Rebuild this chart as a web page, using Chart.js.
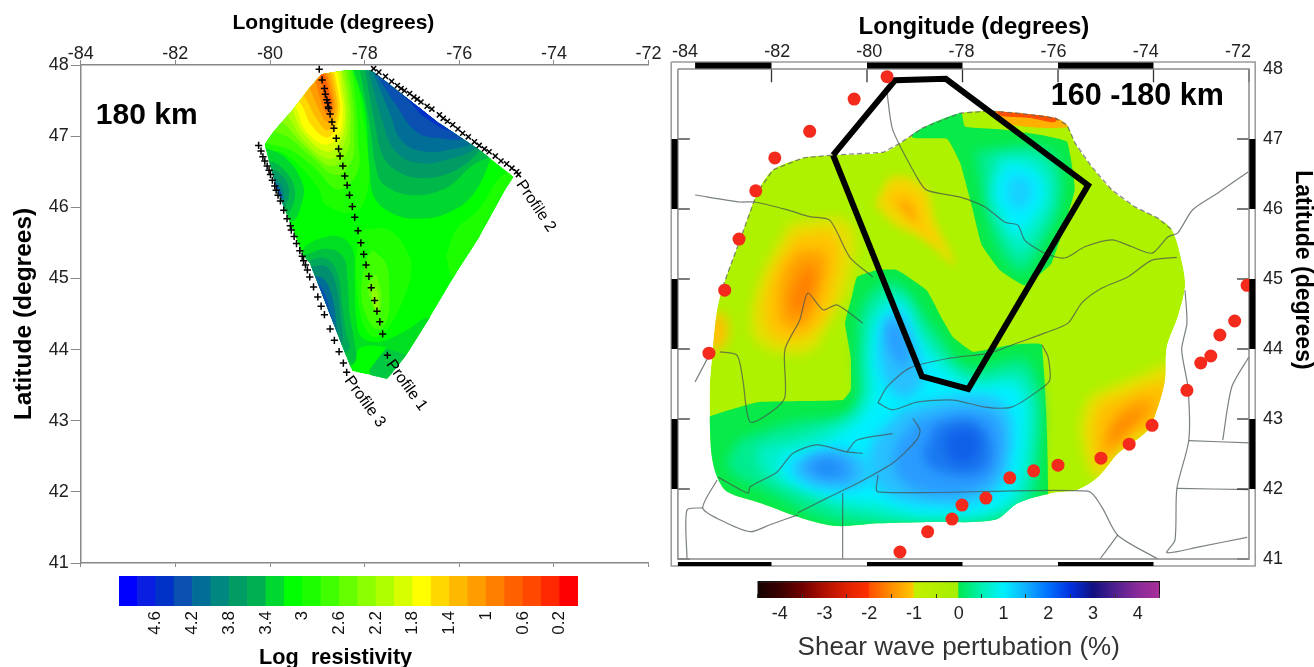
<!DOCTYPE html>
<html><head><meta charset="utf-8">
<style>html,body{margin:0;padding:0;background:#fff;width:1314px;height:667px;overflow:hidden}canvas{position:absolute;display:block}</style>
<script src="https://cdn.jsdelivr.net/npm/chart.js@4"></script>
</head><body>
<canvas id="resMap" width="670" height="667" style="left:0;top:0"></canvas>
<canvas id="shearMap" width="654" height="667" style="left:660px;top:0"></canvas>
<canvas id="resBar" width="500" height="101" style="left:100px;top:566px"></canvas>
<canvas id="shearBar" width="460" height="97" style="left:730px;top:570px"></canvas>
<script>
/* ---------- LEFT MAP: log resistivity at 180 km, [lon, lat] ---------- */
const resOutline=[[-78.91,47.87],[-79.20,47.65],[-79.52,47.37],[-79.94,47.05],[-80.11,46.88],[-79.86,46.27],[-79.31,45.33],[-79.16,45.22],[-78.38,43.90],[-78.26,43.70],[-77.85,43.64],[-77.52,43.59],[-77.12,43.92],[-76.63,44.44],[-76.06,45.08],[-75.58,45.58],[-75.01,46.27],[-74.86,46.43],[-75.58,46.81],[-76.42,47.18],[-77.85,47.92],[-78.36,47.93],[-78.91,47.87]];
const orange1=[[-78.21,48],[-78.07,47.44],[-77.93,46.73],[-77.93,46.27],[-78.18,45.94],[-78.81,46.03],[-78.98,46.27],[-79.33,46.55],[-79.69,46.75],[-80.22,46.9],[-80.22,48],[-78.21,48]];
const orange2=[[-78.28,48],[-78.18,47.44],[-78.14,46.97],[-78.15,46.50],[-78.55,46.25],[-79.05,46.55],[-79.55,46.8],[-80.22,47.0],[-80.22,48],[-78.28,48]];
const orange3=[[-78.36,48],[-78.25,47.48],[-78.22,47.05],[-78.27,46.66],[-78.60,46.45],[-79.15,46.72],[-79.65,47.0],[-80.22,47.15],[-80.22,48],[-78.36,48]];
const orange4=[[-78.43,48],[-78.32,47.53],[-78.30,47.15],[-78.37,46.78],[-78.70,46.58],[-79.25,46.85],[-79.75,47.20],[-80.22,47.35],[-80.22,48],[-78.43,48]];
const orange5=[[-78.50,48],[-78.39,47.58],[-78.36,47.25],[-78.44,46.88],[-78.74,46.68],[-79.30,46.95],[-79.70,47.35],[-80.22,47.60],[-80.22,48],[-78.50,48]];
const orange6=[[-78.53,48],[-78.45,47.58],[-78.41,47.30],[-78.50,46.95],[-78.80,46.78],[-79.30,47.05],[-79.55,47.40],[-79.85,47.70],[-79.85,48],[-78.53,48]];
const orange7=[[-78.60,48],[-78.50,47.58],[-78.46,47.34],[-78.55,47.02],[-78.84,46.88],[-79.26,47.09],[-79.43,47.37],[-79.69,47.65],[-79.70,48],[-78.60,48]];
const orange8=[[-78.67,48],[-78.55,47.58],[-78.52,47.37],[-78.62,47.10],[-78.80,46.98],[-79.12,47.15],[-79.30,47.40],[-79.55,47.70],[-79.55,48],[-78.67,48]];
const orange9=[[-78.73,48],[-78.60,47.58],[-78.57,47.39],[-78.65,47.18],[-78.80,47.08],[-79.02,47.25],[-79.18,47.45],[-79.40,47.75],[-79.40,48],[-78.73,48]];
const orange10=[[-78.80,48],[-78.66,47.62],[-78.62,47.39],[-78.69,47.25],[-78.80,47.20],[-78.95,47.35],[-79.08,47.55],[-79.25,47.85],[-79.25,48],[-78.80,48]];
const orange11=[[-78.85,48],[-78.71,47.62],[-78.66,47.41],[-78.73,47.30],[-78.82,47.32],[-78.93,47.50],[-79.02,47.72],[-79.12,48],[-78.85,48]];
const orange12=[[-78.90,48],[-78.75,47.62],[-78.70,47.46],[-78.76,47.40],[-78.84,47.48],[-78.90,47.72],[-78.99,48],[-78.90,48]];
const northEast1=[[-78.25,47.95],[-78.00,47.39],[-77.90,46.59],[-77.79,46.13],[-77.34,45.89],[-76.84,45.84],[-76.28,45.91],[-75.72,46.17],[-75.30,46.73],[-75.02,47.20],[-77.12,48.05],[-78.25,48.05],[-78.25,47.95]];
const northEast2=[[-78.11,47.95],[-77.90,47.20],[-77.76,46.55],[-77.58,46.31],[-76.98,46.17],[-76.28,46.27],[-75.72,46.59],[-75.23,46.78],[-75.02,47.20],[-77.12,48.05],[-78.11,47.95]];
const northEast3=[[-78.00,47.95],[-77.79,47.20],[-77.62,46.73],[-77.34,46.52],[-76.84,46.41],[-76.14,46.50],[-75.58,46.78],[-75.02,47.20],[-77.12,48.05],[-78.00,47.95]];
const northEast4=[[-77.93,47.95],[-77.62,47.20],[-77.34,46.78],[-76.84,46.62],[-76.14,46.69],[-75.65,46.83],[-75.02,47.20],[-77.12,48.05],[-77.93,47.95]];
const northEast5=[[-77.86,47.95],[-77.48,47.34],[-77.20,46.92],[-76.70,46.78],[-76.07,46.83],[-75.72,46.90],[-75.02,47.20],[-77.12,48.05],[-77.86,47.95]];
const northEast6=[[-77.83,47.95],[-77.34,47.44],[-76.91,47.06],[-76.42,46.97],[-75.86,46.97],[-75.02,47.20],[-77.12,48.05],[-77.83,47.95]];
const northEast7=[[-77.69,47.91],[-77.12,47.53],[-76.70,47.25],[-76.14,47.06],[-75.44,47.06],[-77.12,48.05],[-77.69,47.91]];
const northEast8=[[-77.26,47.72],[-76.84,47.39],[-76.35,47.18],[-75.72,47.18],[-77.12,48.05],[-77.26,47.72]];
const west1=[[-80.15,46.85],[-79.66,46.69],[-79.30,46.31],[-79.34,46.03],[-79.52,45.80],[-79.87,45.80],[-80.36,46.27],[-80.15,46.85]];
const west2=[[-80.11,46.69],[-79.73,46.55],[-79.48,46.27],[-79.55,45.98],[-79.73,45.84],[-80.36,46.27],[-80.11,46.69]];
const west3=[[-80.08,46.57],[-79.80,46.48],[-79.60,46.27],[-79.66,46.03],[-79.76,45.94],[-80.36,46.27],[-80.08,46.57]];
const west4=[[-80.01,46.50],[-79.73,46.27],[-79.76,46.03],[-80.36,46.27],[-80.01,46.50]];
const west5=[[-79.97,46.43],[-79.81,46.27],[-79.76,46.13],[-80.36,46.27],[-79.97,46.43]];
const south1=[[-79.27,45.45],[-78.95,45.56],[-78.53,45.59],[-78.25,45.40],[-78.21,44.98],[-78.18,44.46],[-78.07,44.18],[-77.69,44.11],[-77.12,44.27],[-76.63,44.45],[-76.28,44.23],[-77.12,43.92],[-77.62,44.04],[-78.11,44.02],[-78.21,43.81],[-78.53,43.71],[-79.59,44.98],[-79.27,45.45]];
const southPatch=[[-77.55,44.02],[-77.12,43.92],[-77.34,43.48],[-77.83,43.57],[-77.90,43.71],[-77.55,44.02]];
const south2=[[-79.16,45.35],[-78.81,45.42],[-78.46,45.31],[-78.36,44.98],[-78.32,44.51],[-78.21,44.09],[-78.21,43.83],[-78.46,43.81],[-79.59,45.21],[-79.16,45.35]];
const south3=[[-79.15,45.26],[-78.81,45.28],[-78.57,45.07],[-78.46,44.56],[-78.39,44.23],[-78.32,44.02],[-78.53,43.95],[-79.59,45.12],[-79.15,45.26]];
const south4=[[-79.13,45.17],[-78.81,45.17],[-78.60,44.89],[-78.50,44.42],[-78.46,44.13],[-78.53,44.02],[-79.59,45.03],[-79.13,45.17]];
const south5=[[-79.09,45.05],[-78.85,44.98],[-78.67,44.70],[-78.60,44.37],[-78.60,44.20],[-79.59,44.88],[-79.09,45.05]];
const south6=[[-79.06,44.98],[-78.88,44.84],[-78.74,44.56],[-78.67,44.32],[-79.37,44.74],[-79.06,44.98]];
const lime0=[[-78.11,45.68],[-77.48,45.68],[-77.05,45.31],[-77.02,45.07],[-77.16,44.74],[-77.48,44.32],[-77.69,44.18],[-77.93,44.23],[-78.11,44.56],[-78.18,45.21],[-78.11,45.68]];
const lime1=[[-77.83,45.40],[-77.55,45.21],[-77.48,44.84],[-77.51,44.46],[-77.69,44.28],[-77.93,44.42],[-78.07,44.79],[-77.97,45.26],[-77.83,45.40]];
const lime2=[[-77.76,45.07],[-77.65,44.79],[-77.69,44.51],[-77.79,44.56],[-77.93,44.88],[-77.76,45.07]];
const lime3=[[-77.76,44.88],[-77.70,44.70],[-77.74,44.53],[-77.86,44.79],[-77.76,44.88]];
const eastLime=[[-76.28,45.31],[-76.07,45.68],[-75.58,45.98],[-75.09,46.45],[-74.70,46.45],[-75.50,45.30],[-76.11,45.00],[-76.28,45.31]];
const profile1=[[-78.96,47.94],[-78.90,47.79],[-78.85,47.67],[-78.83,47.59],[-78.80,47.51],[-78.78,47.47],[-78.77,47.41],[-78.76,47.39],[-78.73,47.31],[-78.69,47.20],[-78.65,47.11],[-78.60,46.97],[-78.55,46.82],[-78.52,46.72],[-78.46,46.58],[-78.42,46.44],[-78.37,46.31],[-78.32,46.17],[-78.26,46.01],[-78.21,45.86],[-78.14,45.67],[-78.08,45.50],[-78.02,45.34],[-77.97,45.19],[-77.91,45.03],[-77.86,44.87],[-77.79,44.69],[-77.74,44.54],[-77.68,44.39],[-77.62,44.22],[-77.52,43.92]];
const profile2=[[-77.81,47.95],[-77.70,47.90],[-77.56,47.84],[-77.43,47.77],[-77.31,47.71],[-77.23,47.67],[-77.16,47.64],[-77.05,47.60],[-76.96,47.55],[-76.89,47.52],[-76.81,47.48],[-76.68,47.42],[-76.58,47.38],[-76.42,47.30],[-76.34,47.25],[-76.25,47.21],[-76.14,47.16],[-76.03,47.10],[-75.93,47.04],[-75.81,46.99],[-75.68,46.92],[-75.58,46.87],[-75.47,46.82],[-75.37,46.78],[-75.24,46.72],[-75.12,46.65],[-75.00,46.61],[-74.89,46.55],[-74.79,46.50],[-74.75,46.46]];
const profile3=[[-80.24,46.87],[-80.19,46.79],[-80.15,46.71],[-80.11,46.65],[-80.06,46.58],[-80.02,46.52],[-79.99,46.46],[-79.95,46.38],[-79.90,46.30],[-79.87,46.24],[-79.83,46.17],[-79.78,46.09],[-79.71,45.96],[-79.64,45.84],[-79.57,45.74],[-79.55,45.68],[-79.49,45.59],[-79.44,45.49],[-79.37,45.39],[-79.32,45.31],[-79.29,45.25],[-79.25,45.19],[-79.21,45.12],[-79.16,45.02],[-79.08,44.88],[-78.99,44.74],[-78.92,44.61],[-78.85,44.49],[-78.73,44.29],[-78.64,44.13],[-78.54,43.97],[-78.45,43.81],[-78.38,43.68]];

/* resistivity colour scale: 25 cells from 5 (blue) down to 0 (red) */
const resCellCentres=[4.9,4.7,4.5,4.3,4.1,3.9,3.7,3.5,3.3,3.1,2.9,2.7,2.5,2.3,2.1,1.9,1.7,1.5,1.3,1.1,0.9,0.7,0.5,0.3,0.1];
const resCellColours=['#0000ff','#0a1ee2','#0032c8','#0a50b0','#006e96','#00877f','#009c64','#00b050','#00d82f','#00ff00','#1cff00','#40ff00','#66ff00','#8cff00','#b0ff00','#d8ff00','#ffff00','#ffd800','#ffb800','#ff9c00','#ff8000','#ff6000','#ff4800','#ff2800','#ff0000'];
const resTickValues=[4.6,4.2,3.8,3.4,3,2.6,2.2,1.8,1.4,1,0.6,0.2];

/* ---------- RIGHT MAP: shear wave perturbation 160-180 km, [lon, lat] ---------- */
const shearOutline=[[-80.71,46.77],[-79.66,46.81],[-79.31,46.94],[-78.83,47.16],[-78.05,47.37],[-77.42,47.40],[-76.84,47.37],[-76.06,47.30],[-75.81,47.20],[-75.64,46.94],[-75.29,46.60],[-74.87,46.27],[-74.39,46.03],[-73.91,45.87],[-73.61,45.70],[-73.40,45.23],[-73.34,44.89],[-73.49,44.46],[-73.72,44.03],[-73.76,43.56],[-73.91,43.17],[-74.12,42.84],[-74.74,42.51],[-75.16,42.17],[-75.58,41.99],[-76.13,41.94],[-76.84,41.80],[-77.32,41.56],[-78.74,41.53],[-79.79,41.51],[-80.63,41.47],[-81.26,41.56],[-82.24,41.80],[-82.93,41.96],[-83.14,42.17],[-83.25,42.46],[-83.29,42.89],[-83.29,43.51],[-83.23,43.99],[-83.14,44.56],[-83.02,44.89],[-82.66,45.56],[-82.30,46.23],[-81.97,46.56],[-81.34,46.73],[-80.71,46.77]];
const blobGreen=[[-79.05,47.40],[-79.05,47.02],[-78.32,47.00],[-78.05,46.66],[-77.80,46.03],[-77.60,45.49],[-77.22,45.13],[-76.70,44.91],[-76.13,45.23],[-75.65,46.27],[-75.81,46.96],[-76.38,47.06],[-77.22,47.14],[-77.95,47.18],[-78.05,47.45],[-79.05,47.40]];
const blobTeal=[[-77.74,46.84],[-76.17,46.84],[-75.92,46.20],[-76.38,45.41],[-76.76,45.10],[-77.22,45.41],[-77.53,46.06],[-77.74,46.84]];
const blobAqua=[[-77.32,46.77],[-76.38,46.73],[-76.07,46.20],[-76.49,45.56],[-76.80,45.34],[-77.11,45.63],[-77.43,46.13],[-77.32,46.77]];
const blobCyan=[[-77.11,46.67],[-76.49,46.56],[-76.28,46.20],[-76.63,45.77],[-76.90,45.63],[-77.15,45.91],[-77.32,46.27],[-77.11,46.67]];
const blobCore=[[-77.01,46.49],[-76.59,46.41],[-76.55,46.17],[-76.80,45.99],[-77.05,46.13],[-77.01,46.49]];
const southGreen=[[-83.71,42.94],[-83.02,43.10],[-82.30,43.24],[-80.51,43.27],[-80.34,43.41],[-80.34,43.89],[-80.46,44.37],[-80.32,44.74],[-80.21,45.03],[-79.79,45.13],[-79.37,45.13],[-78.75,44.84],[-78.41,44.41],[-78.20,44.17],[-77.78,43.96],[-76.97,44.06],[-76.34,44.06],[-76.34,41.20],[-83.92,41.20],[-83.71,42.94]];
const southTeal=[[-82.70,42.70],[-81.61,42.95],[-80.30,43.15],[-80.20,44.00],[-80.05,44.70],[-79.40,44.95],[-78.60,44.30],[-77.90,43.75],[-76.59,43.80],[-76.42,42.13],[-76.80,41.60],[-79.31,41.50],[-80.78,41.55],[-82.03,41.95],[-82.90,42.30],[-82.70,42.70]];
const southAqua=[[-82.30,42.60],[-81.00,42.85],[-80.15,43.20],[-80.05,44.00],[-79.90,44.55],[-79.35,44.80],[-78.70,44.15],[-77.85,43.60],[-76.70,43.60],[-76.55,42.40],[-77.00,41.72],[-78.68,41.55],[-80.15,41.65],[-81.30,41.92],[-82.20,42.25],[-82.30,42.60]];
const southCyan=[[-81.80,42.50],[-80.80,42.70],[-79.95,43.20],[-79.90,44.00],[-79.75,44.45],[-79.31,44.65],[-78.80,44.00],[-77.85,43.48],[-76.85,43.45],[-76.72,42.56],[-77.11,41.80],[-78.58,41.62],[-79.73,41.78],[-80.85,41.90],[-81.80,42.20],[-81.80,42.50]];
const armSky=[[-79.65,44.40],[-79.35,44.55],[-78.95,44.00],[-78.85,43.50],[-79.30,43.30],[-79.72,43.75],[-79.65,44.40]];
const mainSky=[[-79.31,43.13],[-78.05,43.34],[-77.11,43.20],[-77.01,42.41],[-77.43,41.91],[-78.47,41.77],[-79.73,41.99],[-79.94,42.56],[-79.31,43.13]];
const westSky=[[-81.61,42.34],[-80.99,42.56],[-80.15,42.49],[-79.94,42.13],[-80.67,41.99],[-81.41,42.13],[-81.61,42.34]];
const armBlue=[[-79.62,44.34],[-79.41,44.41],[-79.14,43.99],[-79.21,43.73],[-79.52,43.99],[-79.62,44.34]];
const mainBlue=[[-78.99,42.99],[-77.95,43.13],[-77.26,42.99],[-77.22,42.34],[-77.64,42.01],[-78.47,41.91],[-79.31,42.13],[-79.41,42.56],[-78.99,42.99]];
const westBlue=[[-81.41,42.34],[-80.88,42.49],[-80.36,42.39],[-80.36,42.13],[-81.09,42.16],[-81.41,42.34]];
const mainDeep=[[-78.58,42.91],[-77.85,42.99],[-77.43,42.70],[-77.53,42.27],[-78.16,42.20],[-78.79,42.41],[-78.58,42.91]];
const westDeep=[[-81.14,42.34],[-80.78,42.39],[-80.57,42.27],[-80.88,42.21],[-81.14,42.34]];
const mainCore=[[-78.26,42.84],[-77.74,42.84],[-77.68,42.49],[-78.05,42.34],[-78.36,42.56],[-78.26,42.84]];
const huronYellow=[[-81.61,45.81],[-80.40,45.81],[-80.36,44.99],[-80.88,44.27],[-81.20,43.96],[-82.03,43.99],[-82.41,44.27],[-82.24,44.99],[-81.61,45.81]];
const huronAmber=[[-81.51,45.63],[-80.67,45.63],[-80.67,44.91],[-81.09,44.27],[-81.82,44.13],[-82.14,44.41],[-82.03,44.99],[-81.51,45.63]];
const huronOrange=[[-81.41,45.41],[-80.88,45.34],[-80.99,44.84],[-81.30,44.34],[-81.72,44.34],[-81.82,44.70],[-81.72,45.13],[-81.41,45.41]];
const huronCore=[[-81.30,45.20],[-81.09,45.13],[-81.20,44.70],[-81.47,44.49],[-81.61,44.70],[-81.30,45.20]];
const dropYellow=[[-79.83,46.06],[-79.46,46.46],[-78.79,46.31],[-78.58,45.84],[-78.16,45.20],[-78.79,45.56],[-79.41,45.77],[-79.83,46.06]];
const dropAmber=[[-79.62,46.13],[-79.37,46.31],[-78.93,46.17],[-78.79,45.84],[-78.58,45.49],[-79.21,45.91],[-79.62,46.13]];
const dropCore=[[-79.37,46.13],[-79.10,46.09],[-78.99,45.81],[-79.25,45.96],[-79.37,46.13]];
const edgeAmber=[[-83.14,44.56],[-82.93,44.41],[-82.98,44.06],[-83.23,43.99],[-83.50,44.13],[-83.14,44.56]];
const seYellow=[[-75.54,42.84],[-75.37,43.27],[-74.87,43.46],[-74.24,43.63],[-73.55,43.77],[-73.66,42.99],[-74.49,42.56],[-75.12,42.13],[-75.37,42.34],[-75.54,42.84]];
const seAmber=[[-75.29,42.84],[-75.12,43.20],[-74.60,43.34],[-74.07,43.49],[-73.66,43.49],[-73.87,42.99],[-74.70,42.63],[-75.12,42.34],[-75.29,42.84]];
const seOrange=[[-74.93,42.87],[-74.66,43.13],[-74.28,43.27],[-73.97,43.20],[-74.49,42.84],[-75.01,42.49],[-74.93,42.87]];
const seCore=[[-74.81,42.91],[-74.49,43.06],[-74.18,43.10],[-74.60,42.84],[-74.91,42.63],[-74.81,42.91]];
const northAmber=[[-77.53,47.49],[-75.75,47.27],[-75.79,47.17],[-76.38,47.16],[-77.22,47.24],[-77.53,47.49]];
const northRed=[[-77.43,47.56],[-75.96,47.39],[-76.07,47.24],[-76.59,47.30],[-77.22,47.34],[-77.43,47.56]];
const studyArea=[[-80.71,46.77],[-79.41,47.84],[-78.35,47.86],[-75.37,46.34],[-77.88,43.43],[-78.85,43.61],[-80.71,46.77]];
const stations=[[-79.58,47.89],[-80.27,47.57],[-81.20,47.11],[-81.93,46.73],[-82.33,46.26],[-82.68,45.57],[-82.98,44.84],[-83.31,43.94],[-79.31,41.10],[-78.73,41.39],[-78.22,41.57],[-78.01,41.77],[-77.51,41.87],[-77.01,42.16],[-76.51,42.26],[-76.00,42.34],[-75.10,42.44],[-74.51,42.64],[-74.03,42.91],[-73.30,43.41],[-73.01,43.80],[-72.80,43.90],[-72.61,44.20],[-72.30,44.40],[-72.04,44.91]];
const borders=[
[[-79.58,47.66],[-79.46,47.13],[-78.96,46.46],[-78.75,46.27],[-78.05,46.17],[-77.53,46.03],[-77.11,45.81],[-76.84,45.77],[-76.70,45.56],[-76.34,45.39],[-75.86,45.30],[-75.44,45.46],[-74.87,45.56],[-74.45,45.46],[-74.03,45.37],[-73.70,45.60],[-73.49,45.66],[-73.18,45.99],[-72.65,46.23],[-72.02,46.53]],
[[-79.77,43.23],[-79.58,43.46],[-79.10,43.73],[-78.26,43.87],[-77.43,43.94],[-76.84,44.09],[-76.27,44.23],[-75.79,44.37],[-75.50,44.66],[-75.08,44.87],[-74.54,45.03],[-74.03,45.27],[-73.51,45.31]],
[[-79.77,43.23],[-79.46,43.13],[-78.96,43.24],[-78.20,43.27],[-77.53,43.17],[-76.97,43.17],[-76.34,43.44],[-76.17,43.56],[-76.21,43.89],[-76.34,44.06]],
[[-83.12,42.17],[-82.49,41.94],[-82.45,42.03],[-81.89,42.24],[-81.55,42.51],[-81.05,42.63],[-80.42,42.53],[-80.09,42.51]],
[[-81.45,41.66],[-80.84,41.87],[-80.15,42.10],[-79.46,42.37],[-78.96,42.70],[-78.89,42.84],[-79.04,43.01]],
[[-80.42,42.53],[-80.21,42.70],[-79.46,42.79]],
[[-83.08,43.96],[-82.72,43.91],[-82.60,43.56],[-82.45,42.96],[-82.03,43.09],[-81.72,43.31],[-81.72,43.99],[-81.41,44.41],[-81.24,44.80],[-80.92,44.56],[-80.63,44.63],[-80.09,44.37]],
[[-83.60,46.20],[-82.66,46.10],[-82.35,46.10],[-81.68,45.99],[-81.20,45.89],[-80.78,45.84],[-80.36,45.31],[-79.88,45.03]],
[[-79.77,42.20],[-79.77,41.96],[-75.37,41.97],[-75.08,41.74],[-74.75,41.34],[-73.91,41.0]],
[[-74.75,41.34],[-75.12,41.0]],
[[-80.51,41.94],[-80.51,41.0]],
[[-83.14,42.13],[-83.44,41.73],[-83.08,41.56],[-82.45,41.39],[-82.03,41.49],[-81.45,41.63]],
[[-83.44,41.73],[-83.77,41.70],[-83.77,41.0]],
[[-73.34,44.84],[-73.30,44.37],[-73.41,43.99],[-73.28,43.46],[-73.26,42.70],[-73.51,42.01],[-73.55,41.27],[-73.72,41.09],[-73.07,41.17],[-72.04,41.31]],
[[-73.26,42.69],[-72.0,42.66]],
[[-73.51,42.01],[-72.0,41.99]],
[[-72.0,43.89],[-72.36,43.46],[-72.55,42.70]],
[[-83.60,43.53],[-83.29,43.93]]
];
/* shear colour scale */
const shearTicks=[-4,-3,-2,-1,0,1,2,3,4];
const shearStops=[[-4.5,'#140300'],[-4,'#3a0000'],[-3.5,'#700000'],[-3,'#b01000'],[-2.5,'#e02000'],[-2.02,'#ff3000'],[-2,'#ff5000'],[-1.5,'#ff9000'],[-1.02,'#ffc800'],[-1,'#c4f000'],[-0.02,'#a4ee00'],[0,'#00e850'],[0.5,'#00f0b0'],[1,'#00f0ff'],[1.5,'#10b0ff'],[2,'#0070ff'],[2.5,'#0030e0'],[3,'#101080'],[3.5,'#502090'],[4,'#8a2a9a'],[4.5,'#a83098']];

/* axis ticks */
const lonTicks=[-84,-82,-80,-78,-76,-74,-72];
const latTicks=[41,42,43,44,45,46,47,48];

Chart.defaults.font.family='"Liberation Sans",Arial,sans-serif';
Chart.defaults.animation=false;
Chart.defaults.responsive=false;
Chart.defaults.plugins.legend.display=false;
Chart.defaults.plugins.tooltip.enabled=false;

const pts=a=>a.map(p=>({x:p[0],y:p[1]}));
const area=(a,c,o={})=>Object.assign({type:'scatter',data:pts(a),showLine:true,borderWidth:0,pointRadius:0,tension:0.4,capBezierPoints:false,fillColor:c,clip:false},o);
const stroke=(a,c,w,o={})=>Object.assign({type:'scatter',data:pts(a),showLine:true,borderColor:c,borderWidth:w,pointRadius:0,tension:0,clip:false,order:-2},o);
const markers=(a,s)=>({type:'scatter',data:pts(a),pointStyle:s,pointRadius:3.6,borderColor:'#000',backgroundColor:'#000',borderWidth:1.5,clip:false,order:-3});

const fieldPlugin={id:'field',
 beforeDatasetsDraw(chart){
  const n=chart.options.plugins.field;if(!n||!n.layers)return;
  const c=chart.ctx,l=chart.getDatasetMeta(0).dataset;
  l.updateControlPoints(chart.chartArea);
  c.save();c.beginPath();l.path(c);c.closePath();c.clip();
 },
 beforeDatasetDraw(chart,a){
  const d=chart.data.datasets[a.index];if(!d.fillColor)return;
  const c=chart.ctx,l=a.meta.dataset;
  l.updateControlPoints(chart.chartArea);
  c.save();if(d.blur)c.filter=`blur(${d.blur}px)`;
  c.fillStyle=d.fillColor;c.beginPath();l.path(c);c.closePath();c.fill();c.restore();
 },
 afterDatasetDraw(chart,a){
  const n=chart.options.plugins.field;
  if(n&&n.layers&&a.index===n.layers-1)chart.ctx.restore();
 }};
const textPlugin={id:'labels',
 afterDraw(chart){
  const c=chart.ctx,list=chart.options.plugins.labels.items||[];
  for(const t of list){
   c.save();
   c.translate(chart.scales.x.getPixelForValue(t.x),chart.scales.y.getPixelForValue(t.y));
   if(t.rot)c.rotate(t.rot*Math.PI/180);
   c.font=t.font;c.fillStyle=t.color||'#000';c.textAlign=t.align||'center';c.textBaseline='middle';
   c.fillText(t.text,0,0);c.restore();
  }
 }};
Chart.register(fieldPlugin,textPlugin);

const fitH=h=>s=>{s.height=h};const fitW=w=>s=>{s.width=w};

/* left map layers */
const resLayers=[
 area(resOutline,'#00ff00',{tension:0.05}),
 area(lime0,'#1cff00'),area(lime1,'#40ff00'),area(lime2,'#66ff00'),area(lime3,'#8cff00'),area(eastLime,'#1cff00'),
 area(south1,'#00e020'),area(southPatch,'#00c840',{tension:0.1}),area(south2,'#00c040'),area(south3,'#00a85a'),area(south4,'#009070'),area(south5,'#006e96'),area(south6,'#0a50b0'),
 area(orange1,'#1cff00'),area(orange2,'#40ff00'),area(orange3,'#66ff00'),area(orange4,'#8cff00'),area(orange5,'#b0ff00'),area(orange6,'#d8ff00'),area(orange7,'#ffff00'),area(orange8,'#ffd800'),area(orange9,'#ffb800'),area(orange10,'#ff9c00'),area(orange11,'#ff8000'),area(orange12,'#ff6000'),
 area(northEast1,'#00d82f'),area(northEast2,'#00b84a'),area(northEast3,'#009c64'),area(northEast4,'#00877f'),area(northEast5,'#006e96'),area(northEast6,'#0a50b0'),area(northEast7,'#0032c8'),area(northEast8,'#0a1ee2'),
 area(west1,'#00d82f'),area(west2,'#00b84a'),area(west3,'#009c64'),area(west4,'#00877f'),area(west5,'#0a50b0')
];
resLayers.forEach((d,i)=>{d.order=resLayers.length-i});
const axisCommon={color:'#222',font:{size:18}};
new Chart('resMap',{type:'scatter',
 data:{datasets:[...resLayers,markers(profile1,'cross'),markers(profile2,'crossRot'),markers(profile3,'cross')]},
 options:{layout:{padding:{left:0,top:0,right:21.4,bottom:0}},
  scales:{
   x:{type:'linear',position:'top',min:-84,max:-72,afterFit:fitH(65),afterBuildTicks(s){s.ticks=lonTicks.map(v=>({value:v}))},
      ticks:{...axisCommon,padding:-5,maxRotation:0,autoSkip:false},grid:{drawOnChartArea:false,tickLength:5,color:'#888'},border:{color:'#888',width:1.5}},
   xb:{type:'linear',axis:'x',position:'bottom',min:-84,max:-72,afterFit:fitH(104),afterBuildTicks(s){s.ticks=lonTicks.map(v=>({value:v}))},
      ticks:{display:false},grid:{drawOnChartArea:false,tickLength:4,color:'#888'},border:{color:'#888',width:1.5}},
   y:{type:'linear',position:'left',min:41,max:48,afterFit:fitW(80.7),afterBuildTicks(s){s.ticks=latTicks.map(v=>({value:v}))},
      ticks:{...axisCommon,padding:2,autoSkip:false},grid:{drawOnChartArea:false,tickLength:10,color:'#888'},border:{color:'#888',width:1.5}}
  },
  plugins:{field:{layers:resLayers.length},labels:{items:[
   {text:'Longitude (degrees)',x:-78.66,y:48.59,font:'bold 21px "Liberation Sans"'},
   {text:'Latitude (degrees)',x:-85.20,y:44.5,rot:-90,font:'bold 24.5px "Liberation Sans"'},
   {text:'180 km',x:-83.68,y:47.28,align:'left',font:'bold 30px "Liberation Sans"'},
   {text:'Profile 1',x:-77.48,y:43.83,rot:54,align:'left',font:'16px "Liberation Sans"'},
   {text:'Profile 2',x:-74.73,y:46.36,rot:56,align:'left',font:'16px "Liberation Sans"'},
   {text:'Profile 3',x:-78.36,y:43.60,rot:54,align:'left',font:'16px "Liberation Sans"'}
  ]}}
 }});

/* right map layers */
const B=6,shearLayers=[
 area(shearOutline,'#aef200',{tension:0.3}),
 area(northAmber,'#ffb000',{tension:0.2}),area(northRed,'#ff5000',{tension:0.2}),
 area(edgeAmber,'#ffc000',{blur:B}),
 area(huronYellow,'#e4e000',{blur:B}),area(huronAmber,'#ffc400',{blur:B}),area(huronOrange,'#ffa000',{blur:B}),area(huronCore,'#ff8000',{blur:B}),
 area(dropYellow,'#f0d800',{blur:4}),area(dropAmber,'#ffc800',{blur:4}),area(dropCore,'#ffa800',{blur:4}),
 area(seYellow,'#e8e000',{blur:B}),area(seAmber,'#ffc000',{blur:B}),area(seOrange,'#ffa000',{blur:B}),area(seCore,'#ff8800',{blur:B}),
 area(blobGreen,'#08ea48',{tension:0.1}),area(blobTeal,'#00ec90',{blur:B}),area(blobAqua,'#00f0c8',{blur:B}),area(blobCyan,'#00f0ff',{blur:B}),area(blobCore,'#18d0ff',{blur:B}),
 area(southGreen,'#08ea48',{tension:0.1}),area(southTeal,'#00ec90',{blur:B}),area(southAqua,'#00f0c8',{blur:B}),area(southCyan,'#00f0ff',{blur:B}),
 area(armSky,'#28c0ff',{blur:B}),area(mainSky,'#28c0ff',{blur:B}),area(westSky,'#28c0ff',{blur:B}),
 area(armBlue,'#2a9cff',{blur:B}),area(mainBlue,'#2a9cff',{blur:B}),area(westBlue,'#2a9cff',{blur:B}),
 area(mainDeep,'#1a78f0',{blur:B}),area(westDeep,'#1a88f5',{blur:B}),area(mainCore,'#1060e8',{blur:B})
];
shearLayers.forEach((d,i)=>{d.order=shearLayers.length-i});
const frameOuter=[[-84.10,48.10],[-71.87,48.10],[-71.87,40.90],[-84.10,40.90],[-84.10,48.10]];
const frameInner=[[-83.96,48],[-72,48],[-72,41],[-83.96,41],[-83.96,48]];
const barsTop=[[-83.60,-82],[-80,-78],[-76,-74]],barsBottom=[[-83.96,-82],[-80,-78],[-76,-74]],barsSide=[[47,46],[45,44],[43,42]];
const frameLine=[
 stroke(frameOuter,'#9a9a9a',1.5),stroke(frameInner,'#8a8a8a',1.5),
 ...barsTop.map(b=>stroke([[b[0],48.05],[b[1],48.05]],'#000',6,{order:-5})),
 ...barsBottom.map(b=>stroke([[b[0],40.93],[b[1],40.93]],'#000',4,{order:-5})),
 ...barsSide.map(b=>stroke([[-84.03,b[0]],[-84.03,b[1]]],'#000',6,{order:-5})),
 ...barsSide.map(b=>stroke([[-71.93,b[0]],[-71.93,b[1]]],'#000',6,{order:-5})),
 ...lonTicks.slice(1).map(v=>stroke([[v,48],[v,47.81]],'#333',1.3)),
 ...latTicks.slice(0,-1).map(v=>stroke([[-83.96,v],[-83.71,v]],'#333',1.3)),
 ...latTicks.slice(0,-1).map(v=>stroke([[-72,v],[-72.25,v]],'#333',1.3))
];
new Chart('shearMap',{type:'scatter',
 data:{datasets:[...shearLayers,
  stroke(shearOutline.slice(0,15),'rgba(100,100,100,.75)',1.3,{borderDash:[5,3],order:-1}),
  stroke(shearOutline.slice(40),'rgba(100,100,100,.75)',1.3,{borderDash:[5,3],order:-1}),
  ...borders.map(b=>stroke(b,'rgba(70,80,80,.72)',1.2,{order:-1,tension:0.25})),
  stroke(studyArea,'#000',6,{order:-2,borderJoinStyle:'miter'}),
  {type:'scatter',data:pts(stations),pointRadius:6.5,backgroundColor:'#f32a1c',borderWidth:0,clip:false,order:-3},
  ...frameLine]},
 options:{layout:{padding:{left:16,top:0,right:0,bottom:108}},
  scales:{
   x:{type:'linear',position:'top',display:false,min:-84,max:-72},
   xLabels:{type:'linear',axis:'x',position:'top',min:-84.195,max:-71.76,afterFit:fitH(69),afterBuildTicks(s){s.ticks=lonTicks.map(v=>({value:v}))},
      ticks:{...axisCommon,padding:0,maxRotation:0,autoSkip:false},grid:{drawOnChartArea:false,tickLength:6,color:'transparent'},border:{display:false}},
   y:{type:'linear',position:'right',min:41,max:48,afterFit:fitW(65),afterBuildTicks(s){s.ticks=latTicks.map(v=>({value:v}))},
      ticks:{...axisCommon,padding:0,autoSkip:false},grid:{drawOnChartArea:false,tickLength:14,color:'transparent'},border:{display:false}}
  },
  plugins:{field:{layers:shearLayers.length},labels:{items:[
   {text:'Longitude (degrees)',x:-77.76,y:48.6,font:'bold 24px "Liberation Sans"'},
   {text:'Latitude (degrees)',x:-70.89,y:45.13,rot:90,font:'bold 23px "Liberation Sans"'},
   {text:'160 -180 km',x:-76.15,y:47.6,align:'left',font:'bold 30.5px "Liberation Sans"'}
  ]}}
 }});

/* resistivity colour bar */
new Chart('resBar',{type:'bar',
 data:{datasets:[{data:resCellCentres.map(v=>({x:v,y:1})),backgroundColor:resCellColours,barPercentage:1,categoryPercentage:1,borderWidth:0}]},
 options:{layout:{padding:{left:19,right:22,top:10,bottom:0}},
  scales:{
   x:{type:'linear',position:'bottom',offset:false,min:0,max:5,reverse:true,afterFit:fitH(61),afterBuildTicks(s){s.ticks=resTickValues.map(v=>({value:v}))},
      ticks:{color:'#111',font:{size:17},padding:0,minRotation:90,maxRotation:90,autoSkip:false,callback:v=>String(v)},
      grid:{drawOnChartArea:false,tickLength:5,color:'transparent'},border:{display:false}},
   y:{type:'linear',min:0,max:1,display:false}
  },
  plugins:{labels:{items:[{text:'Log  resistivity',x:2.64,y:-1.75,font:'bold 21.7px "Liberation Sans"'}]}}
 }});

/* shear colour bar */
new Chart('shearBar',{type:'bar',
 data:{datasets:[{data:[{x:0,y:1}],barThickness:403,borderColor:'#111',borderWidth:1.5,
  backgroundColor(ctx){
   const a=ctx.chart.chartArea;if(!a)return '#000';
   const g=ctx.chart.ctx.createLinearGradient(a.left,0,a.right,0);
   shearStops.forEach(s=>g.addColorStop((s[0]+4.5)/9,s[1]));return g;
  }}]},
 options:{layout:{padding:{left:27.5,right:30,top:11,bottom:0}},
  scales:{
   x:{type:'linear',position:'bottom',offset:false,min:-4.5,max:4.5,afterFit:fitH(69),afterBuildTicks(s){s.ticks=shearTicks.map(v=>({value:v}))},
      ticks:{color:'#222',font:{size:18},padding:9,maxRotation:0,autoSkip:false},
      grid:{drawOnChartArea:false,tickLength:-4,color:'#333',z:1},border:{display:false}},
   y:{type:'linear',min:0,max:1,display:false}
  },
  plugins:{labels:{items:[{text:'Shear wave pertubation (%)',x:0,y:-2.94,color:'#333',font:'26px "Liberation Sans"'}]}}
 }});
</script>
</body></html>
